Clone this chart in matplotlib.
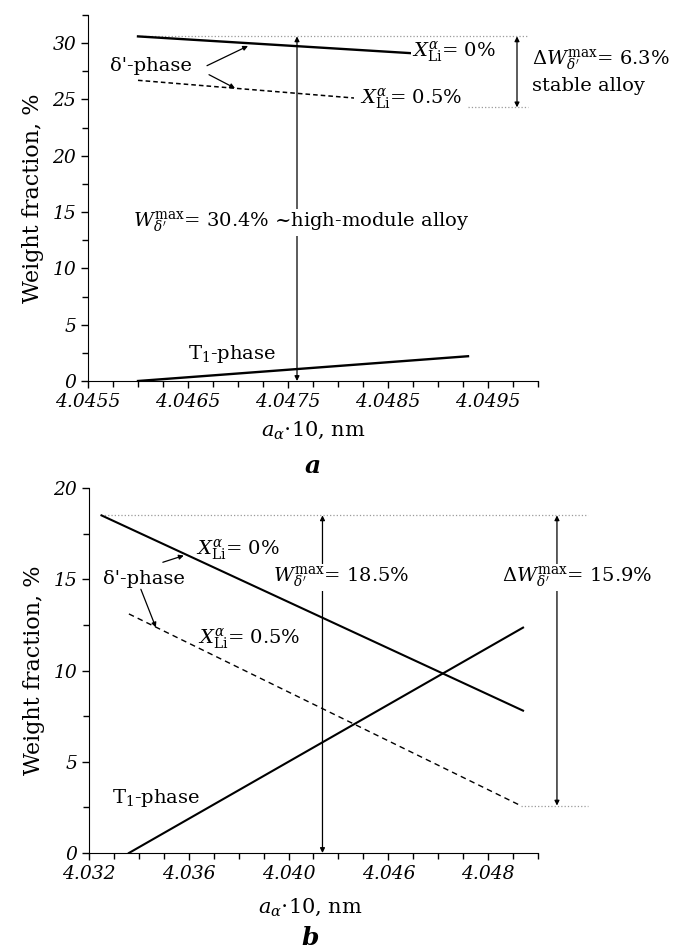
import numpy as np
import matplotlib
matplotlib.use('Agg')
import matplotlib.pyplot as plt
from matplotlib.ticker import MultipleLocator

plt.rcParams['font.family'] = 'DejaVu Serif'
plt.rcParams['mathtext.fontset'] = 'dejavuserif'

# panel a
a_x = [4.0460, 4.0493]
a_delta_0 = [30.6, 28.8]
a_delta_05 = [26.7, 24.3]
a_t1 = [0.0, 2.2]
a_w_max = 30.6
a_w_min = 24.3
a_x_arrow = 4.04759
a_x_dw = 4.04979

# panel b
b_x_delta_0 = [4.0325, 4.0494]
b_delta_0 = [18.5, 7.8]
b_x_delta_05 = [4.0336, 4.0493]
b_delta_05 = [13.1, 2.6]
b_x_t1 = [4.0336, 4.0494]
b_t1 = [0.0, 12.35]
b_w_max = 18.5
b_w_min = 2.6
b_x_arrow = 4.04136
b_x_dw = 4.05076
b_ticks = [4.032, 4.036, 4.040, 4.044, 4.048]
b_ticklabels = ['4.032', '4.036', '4.040', '4.046', '4.048']

fs_tick = 13.5
fs_txt = 14
dot_col = '#9a9a9a'
white = dict(facecolor='white', edgecolor='none', pad=0.5)
arr2 = dict(arrowstyle='<|-|>', color='black', lw=0.9, mutation_scale=7, shrinkA=0, shrinkB=0)
arr1 = dict(arrowstyle='-|>', color='black', lw=0.9, mutation_scale=7, shrinkA=0, shrinkB=0)

fig = plt.figure(figsize=(6.73, 9.5), dpi=100)
ax1 = fig.add_axes([88/673, 1-381/950, (538-88)/673, (381-15)/950])
ax2 = fig.add_axes([89/673, 1-853/950, (538-89)/673, (853-488)/950])

for ax in (ax1, ax2):
    ax.spines['top'].set_visible(False)
    ax.spines['right'].set_visible(False)
    ax.tick_params(which='both', direction='out', width=1, labelsize=fs_tick)
    ax.tick_params(which='major', length=5)
    ax.tick_params(which='minor', length=4)
    ax.set_ylabel('Weight fraction, %', fontsize=16, labelpad=6)

# ---- panel a ----
ax1.set_xlim(4.0455, 4.0500)
ax1.set_ylim(0, 32.5)
ax1.set_xticks([4.0455, 4.0465, 4.0475, 4.0485, 4.0495])
ax1.set_xticklabels(['4.0455', '4.0465', '4.0475', '4.0485', '4.0495'], style='italic')
ax1.xaxis.set_minor_locator(MultipleLocator(0.00025))
ax1.set_yticks([0, 5, 10, 15, 20, 25, 30])
ax1.set_yticklabels(['0', '5', '10', '15', '20', '25', '30'], style='italic')
ax1.yaxis.set_minor_locator(MultipleLocator(2.5))

ax1.plot(a_x, a_delta_0, color='black', lw=1.7, zorder=2)
ax1.plot(a_x, a_delta_05, color='black', lw=1.1, ls=(0, (3, 2)), zorder=2)
ax1.plot(a_x, a_t1, color='black', lw=1.7, zorder=2)
ax1.plot([a_x[0], 4.0499], [a_w_max, a_w_max], color=dot_col, lw=0.9, ls=':', zorder=1)
ax1.plot([a_x[1], 4.0499], [a_w_min, a_w_min], color=dot_col, lw=0.9, ls=':', zorder=6)

ax1.annotate('', xy=(a_x_arrow, a_w_max), xytext=(a_x_arrow, 0), arrowprops=arr2, zorder=3)
ax1.annotate('', xy=(a_x_dw, a_w_max), xytext=(a_x_dw, a_w_min), arrowprops=arr2, zorder=3)

ax1.text(4.04763, 14.1, r"$W^{\mathrm{max}}_{\delta'}$= 30.4% ~high-module alloy",
         fontsize=fs_txt, ha='center', va='center', bbox=white, zorder=5)
ax1.text(4.04874, 29.15, r"$X^{\alpha}_{\mathrm{Li}}$= 0%", fontsize=fs_txt,
         ha='left', va='center', bbox=white, zorder=5)
ax1.text(4.04822, 25.0, r"$X^{\alpha}_{\mathrm{Li}}$= 0.5%", fontsize=fs_txt,
         ha='left', va='center', bbox=dict(facecolor='white', edgecolor='none', pad=4),
         zorder=5)
ax1.text(4.04994, 28.5, r"$\Delta W^{\mathrm{max}}_{\delta'}$= 6.3%", fontsize=fs_txt,
         ha='left', va='center', zorder=5)
ax1.text(4.04994, 26.2, 'stable alloy', fontsize=fs_txt, ha='left', va='center', zorder=5)
ax1.text(4.04572, 28.0, "\u03b4'-phase", fontsize=fs_txt, ha='left', va='center', zorder=5)
ax1.text(4.04694, 2.4, r"T$_1$-phase", fontsize=fs_txt, ha='center', va='center', zorder=5)

ax1.annotate('', xy=(4.04710, 29.75), xytext=(4.04669, 28.0), arrowprops=arr1)
ax1.annotate('', xy=(4.04697, 26.0), xytext=(4.04671, 27.2), arrowprops=arr1)

# ---- panel b ----
ax2.set_xlim(4.032, 4.050)
ax2.set_ylim(0, 20)
ax2.set_xticks(b_ticks)
ax2.set_xticklabels(b_ticklabels, style='italic')
ax2.xaxis.set_minor_locator(MultipleLocator(0.001))
ax2.set_yticks([0, 5, 10, 15, 20])
ax2.set_yticklabels(['0', '5', '10', '15', '20'], style='italic')
ax2.yaxis.set_minor_locator(MultipleLocator(2.5))

ax2.plot(b_x_delta_0, b_delta_0, color='black', lw=1.5, zorder=2)
ax2.plot(b_x_delta_05, b_delta_05, color='black', lw=1.0, ls=(0, (4, 3)), zorder=2)
ax2.plot(b_x_t1, b_t1, color='black', lw=1.5, zorder=2)
ax2.plot([b_x_delta_0[0], 4.0520], [b_w_max, b_w_max], color=dot_col, lw=0.9, ls=':',
         clip_on=False, zorder=1)
ax2.plot([b_x_delta_05[1], 4.0520], [b_w_min, b_w_min], color=dot_col, lw=0.9, ls=':',
         clip_on=False, zorder=1)

ax2.annotate('', xy=(b_x_arrow, b_w_max), xytext=(b_x_arrow, 0), arrowprops=arr2, zorder=3)
ax2.annotate('', xy=(b_x_dw, b_w_max), xytext=(b_x_dw, b_w_min), annotation_clip=False,
             arrowprops=arr2, zorder=3)

ax2.text(4.0421, 15.1, r"$W^{\mathrm{max}}_{\delta'}$= 18.5%", fontsize=fs_txt,
         ha='center', va='center', bbox=white, zorder=5)
ax2.text(4.05156, 15.1, r"$\Delta W^{\mathrm{max}}_{\delta'}$= 15.9%", fontsize=fs_txt,
         ha='center', va='center', bbox=white, zorder=5)
ax2.text(4.03628, 16.6, r"$X^{\alpha}_{\mathrm{Li}}$= 0%", fontsize=fs_txt,
         ha='left', va='center', zorder=5)
ax2.text(4.03636, 11.7, r"$X^{\alpha}_{\mathrm{Li}}$= 0.5%", fontsize=fs_txt,
         ha='left', va='center', zorder=5)
ax2.text(4.03256, 15.0, "\u03b4'-phase", fontsize=fs_txt, ha='left', va='center', zorder=5)
ax2.text(4.03468, 3.0, r"T$_1$-phase", fontsize=fs_txt, ha='center', va='center', zorder=5)

ax2.annotate('', xy=(4.0358, 16.3), xytext=(4.03496, 15.93), arrowprops=arr1)
ax2.annotate('', xy=(4.03468, 12.36), xytext=(4.03408, 14.45), arrowprops=arr1)

# axis labels and panel letters
fig.text(313/673, 1-430/950, r"$a_{\alpha}$$\cdot$10, nm", fontsize=15, ha='center', va='center')
fig.text(313/673, 1-466/950, 'a', fontsize=18, style='italic', weight='bold',
         ha='center', va='center')
fig.text(310/673, 1-907/950, r"$a_{\alpha}$$\cdot$10, nm", fontsize=15, ha='center', va='center')
fig.text(310/673, 1-938/950, 'b', fontsize=18, style='italic', weight='bold',
         ha='center', va='center')

fig.savefig('out.png', dpi=100)
